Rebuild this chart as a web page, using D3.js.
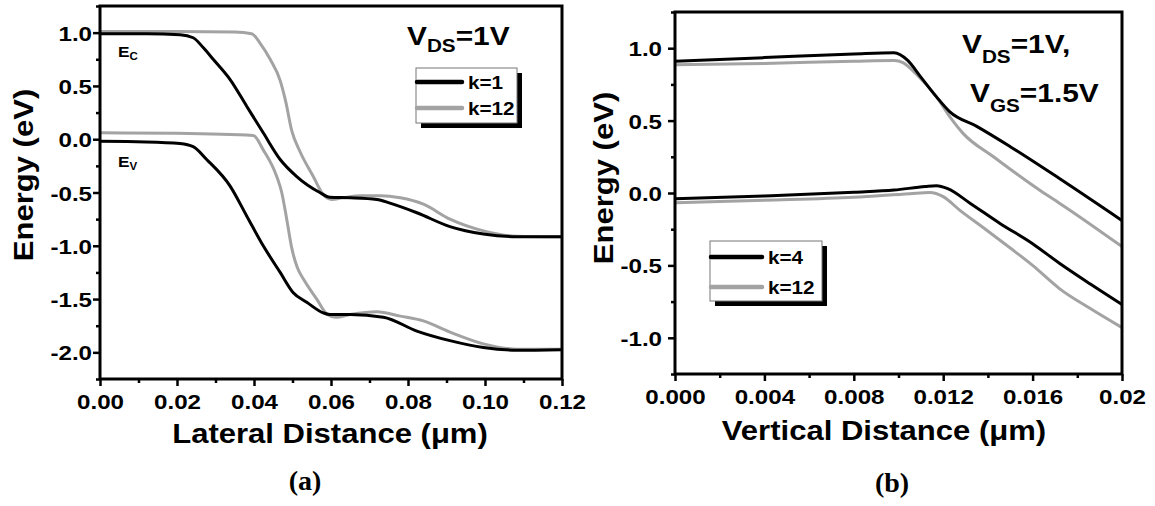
<!DOCTYPE html>
<html>
<head>
<meta charset="utf-8">
<script src="https://cdn.jsdelivr.net/npm/d3@7"></script>
<style>
  body { margin: 0; background: #fff; }
  text { font-family: "Liberation Sans", Arial, sans-serif; font-weight: bold; fill: #000; }
</style>
</head>
<body>
<script>
// ---- data: panel (a), lateral band profile ----
var latEcK1 = [[0,0.99],[0.012,0.99],[0.0208,0.98],[0.0242,0.952],[0.0268,0.86],[0.0294,0.75],[0.0338,0.56],[0.0381,0.31],
  [0.0424,0.06],[0.0468,-0.19],[0.0511,-0.35],[0.0571,-0.50],[0.0597,-0.545],[0.065,-0.55],[0.0719,-0.565],[0.0753,-0.6],
  [0.0823,-0.69],[0.0909,-0.82],[0.0996,-0.89],[0.1082,-0.915],[0.12,-0.915]];
var latEcK12 = [[0,1.01],[0.02,1.01],[0.035,1.005],[0.0394,0.99],[0.0416,0.90],[0.0442,0.75],[0.0468,0.55],[0.0482,0.36],
  [0.0498,0.08],[0.052,-0.12],[0.0554,-0.35],[0.058,-0.52],[0.0602,-0.565],[0.063,-0.55],[0.068,-0.53],[0.073,-0.53],
  [0.078,-0.55],[0.084,-0.61],[0.0909,-0.75],[0.0996,-0.86],[0.1082,-0.91],[0.12,-0.915]];
var latEvK1 = [[0,-0.02],[0.012,-0.025],[0.0208,-0.04],[0.0242,-0.07],[0.0277,-0.19],[0.0338,-0.44],[0.0381,-0.72],
  [0.0424,-1.0],[0.0468,-1.25],[0.0502,-1.44],[0.0537,-1.53],[0.058,-1.63],[0.0597,-1.645],[0.065,-1.645],[0.0736,-1.67],
  [0.0823,-1.8],[0.0909,-1.89],[0.0996,-1.955],[0.1082,-1.98],[0.12,-1.975]];
var latEvK12 = [[0,0.06],[0.02,0.055],[0.0398,0.035],[0.0424,-0.1],[0.0459,-0.35],[0.0472,-0.5],[0.0485,-0.75],[0.0498,-1.02],
  [0.0512,-1.2],[0.0528,-1.31],[0.0563,-1.5],[0.0589,-1.64],[0.0612,-1.67],[0.065,-1.645],[0.0719,-1.62],[0.078,-1.66],
  [0.084,-1.705],[0.0909,-1.81],[0.0996,-1.92],[0.1082,-1.97],[0.12,-1.97]];

// ---- data: panel (b), vertical band profile ----
var verEcK4 = [[0,0.91],[0.004,0.935],[0.008,0.96],[0.0098,0.968],[0.0104,0.917],[0.011,0.80],[0.0117,0.664],[0.0123,0.56],
  [0.0135,0.46],[0.015,0.32],[0.0172,0.10],[0.02,-0.19]];
var verEcK12 = [[0,0.885],[0.004,0.895],[0.008,0.91],[0.0098,0.915],[0.0102,0.90],[0.0108,0.82],[0.0117,0.664],[0.0123,0.526],
  [0.0129,0.41],[0.01425,0.25],[0.0165,0.0],[0.0172,-0.07],[0.02,-0.37]];
var verEvK4 = [[0,-0.04],[0.004,-0.02],[0.008,0.005],[0.0098,0.02],[0.0112,0.045],[0.0117,0.05],[0.0122,0.03],[0.0132,-0.07],
  [0.01454,-0.21],[0.016,-0.35],[0.0172,-0.485],[0.0186,-0.63],[0.02,-0.77]];
var verEvK12 = [[0,-0.067],[0.004,-0.05],[0.008,-0.03],[0.0105,-0.005],[0.0114,0.003],[0.012,-0.025],[0.01275,-0.12],
  [0.0138,-0.24],[0.015,-0.38],[0.016,-0.5],[0.0172,-0.66],[0.0186,-0.8],[0.02,-0.93]];

// ticks
var latXTicks = [0, 0.02, 0.04, 0.06, 0.08, 0.10, 0.12];
var latXLabels = ["0.00", "0.02", "0.04", "0.06", "0.08", "0.10", "0.12"];
var latYTicks = [1.0, 0.5, 0.0, -0.5, -1.0, -1.5, -2.0];
var verXTicks = [0, 0.004, 0.008, 0.012, 0.016, 0.02];
var verXLabels = ["0.000", "0.004", "0.008", "0.012", "0.016", "0.02"];
var verYTicks = [1.0, 0.5, 0.0, -0.5, -1.0];

var width = 1155, height = 506;
var SX = 1.15;          // the reference font is a bit wider than Liberation Sans
var black = "#000", grey = "#a3a3a3";

var svg = d3.select("body").append("svg")
    .attr("width", width)
    .attr("height", height);

// text with horizontal stretch, positioned by transform
function label(g, x, y, size, anchor, rot) {
    return g.append("text")
        .attr("transform", "translate(" + x + "," + y + ") rotate(" + (rot || 0) + ") scale(" + SX + ",1)")
        .attr("text-anchor", anchor)
        .style("font-size", size + "px");
}

function drawPanel(p) {
    var x = d3.scaleLinear().domain(p.xDomain).range([p.left, p.right]);
    var y = d3.scaleLinear().domain(p.yDomain).range([p.bottom, p.top]);
    var g = svg.append("g");

    // minor ticks
    g.append("g").attr("transform", "translate(0," + p.bottom + ")")
        .call(d3.axisBottom(x).tickValues(p.xMinor).tickSize(4).tickFormat(""));
    g.append("g").attr("transform", "translate(" + p.left + ",0)")
        .call(d3.axisLeft(y).tickValues(p.yMinor).tickSize(4).tickFormat(""));

    // major ticks + labels
    var xa = g.append("g").attr("transform", "translate(0," + p.bottom + ")")
        .call(d3.axisBottom(x).tickValues(p.xTicks).tickSize(7)
            .tickFormat(function (d, i) { return p.xLabels[i]; }));
    xa.selectAll("text").attr("y", 30).attr("dy", null)
        .attr("transform", "scale(" + SX + ",1)")
        .style("font-size", "21px");
    var ya = g.append("g").attr("transform", "translate(" + p.left + ",0)")
        .call(d3.axisLeft(y).tickValues(p.yTicks).tickSize(7)
            .tickFormat(function (d) { return d.toFixed(1); }));
    ya.selectAll("text").attr("x", -p.yLabelGap / SX).attr("dy", "0.36em")
        .attr("transform", "scale(" + SX + ",1)")
        .style("font-size", "21px");

    g.selectAll(".domain").remove();
    g.selectAll(".tick line").attr("stroke", black).attr("stroke-width", 2.5);
    g.selectAll(".tick text").style("font-family", "Liberation Sans, Arial, sans-serif").style("font-weight", "bold");

    // curves
    var line = d3.line()
        .x(function (d) { return x(d[0]); })
        .y(function (d) { return y(d[1]); })
        .curve(d3.curveMonotoneX);
    p.series.forEach(function (s) {
        g.append("path")
            .datum(s.data)
            .attr("fill", "none")
            .attr("stroke", s.color)
            .attr("stroke-width", 3)
            .attr("stroke-linejoin", "round")
            .attr("d", line);
    });

    // frame
    g.append("rect")
        .attr("x", p.left).attr("y", p.top)
        .attr("width", p.right - p.left).attr("height", p.bottom - p.top)
        .attr("fill", "none").attr("stroke", black).attr("stroke-width", 3);

    // legend with drop shadow
    var L = p.legend;
    g.append("rect").attr("x", L.x + 5).attr("y", L.y + 5).attr("width", L.w).attr("height", L.h).attr("fill", black);
    g.append("rect").attr("x", L.x).attr("y", L.y).attr("width", L.w).attr("height", L.h)
        .attr("fill", "#fff").attr("stroke", "#777").attr("stroke-width", 1);
    L.items.forEach(function (it, i) {
        var yy = L.y + L.first + i * L.step;
        g.append("line").attr("x1", L.x + 1).attr("x2", L.x + L.lineLen).attr("y1", yy).attr("y2", yy)
            .attr("stroke", it.color).attr("stroke-width", 4.5).attr("stroke-linecap", "round");
        label(g, L.x + L.lineLen + 6, yy + 7, 18, "start").text(it.name);
    });

    // axis titles
    label(g, p.xTitle[0], p.xTitle[1], 27, "middle").text(p.xTitle[2]);
    label(g, p.yTitle[0], p.yTitle[1], 27, "middle", -90).text("Energy (eV)");
    g.append("text")
        .attr("x", p.tag[0]).attr("y", p.tag[1])
        .attr("text-anchor", "middle")
        .style("font-family", "Liberation Serif, Times New Roman, serif")
        .style("font-size", "28px")
        .text(p.tag[2]);
    return g;
}

var ga = drawPanel({
    left: 100, right: 562, top: 6, bottom: 379,
    xDomain: [0, 0.12], yDomain: [-2.25, 1.25],
    xTicks: latXTicks, xLabels: latXLabels, xMinor: d3.range(0.01, 0.12, 0.02),
    yTicks: latYTicks, yMinor: [1.25, 0.75, 0.25, -0.25, -0.75, -1.25, -1.75, -2.25], yLabelGap: 8,
    series: [
        { data: latEcK12, color: grey }, { data: latEvK12, color: grey },
        { data: latEcK1, color: black }, { data: latEvK1, color: black }
    ],
    legend: { x: 416, y: 68, w: 101, h: 55, first: 14, step: 26, lineLen: 46,
        items: [{ name: "k=1", color: black }, { name: "k=12", color: grey }] },
    xTitle: [330, 443, "Lateral Distance (\u03bcm)"],
    yTitle: [33, 175],
    tag: [305, 490, "(a)"]
});

var gb = drawPanel({
    left: 675, right: 1122, top: 12, bottom: 374,
    xDomain: [0, 0.02], yDomain: [-1.25, 1.25],
    xTicks: verXTicks, xLabels: verXLabels, xMinor: [0.002, 0.006, 0.010, 0.014, 0.018],
    yTicks: verYTicks, yMinor: [1.25, 0.75, 0.25, -0.25, -0.75, -1.25], yLabelGap: 13,
    series: [
        { data: verEcK12, color: grey }, { data: verEvK12, color: grey },
        { data: verEcK4, color: black }, { data: verEvK4, color: black }
    ],
    legend: { x: 710, y: 241, w: 112, h: 60, first: 16, step: 30, lineLen: 52,
        items: [{ name: "k=4", color: black }, { name: "k=12", color: grey }] },
    xTitle: [884, 440, "Vertical Distance (\u03bcm)"],
    yTitle: [613, 178],
    tag: [892, 492, "(b)"]
});

// band labels in panel (a)
var ec = label(ga, 118, 57, 15, "start");
ec.append("tspan").text("E");
ec.append("tspan").attr("dy", 3).style("font-size", "10px").text("C");
var ev = label(ga, 118, 167, 15, "start");
ev.append("tspan").text("E");
ev.append("tspan").attr("dy", 3).style("font-size", "10px").text("V");

// bias annotations
function bias(g, x, y, sub, rest, drop) {
    var t = label(g, x, y, 26, "start");
    t.append("tspan").text("V");
    t.append("tspan").attr("dy", drop).style("font-size", "18px").text(sub);
    t.append("tspan").attr("dy", -drop).text(rest);
}
bias(ga, 407, 45, "DS", "=1V", 7);
bias(gb, 962, 53, "DS", "=1V,", 10);
bias(gb, 970, 102, "GS", "=1.5V", 10);
</script>
</body>
</html>
